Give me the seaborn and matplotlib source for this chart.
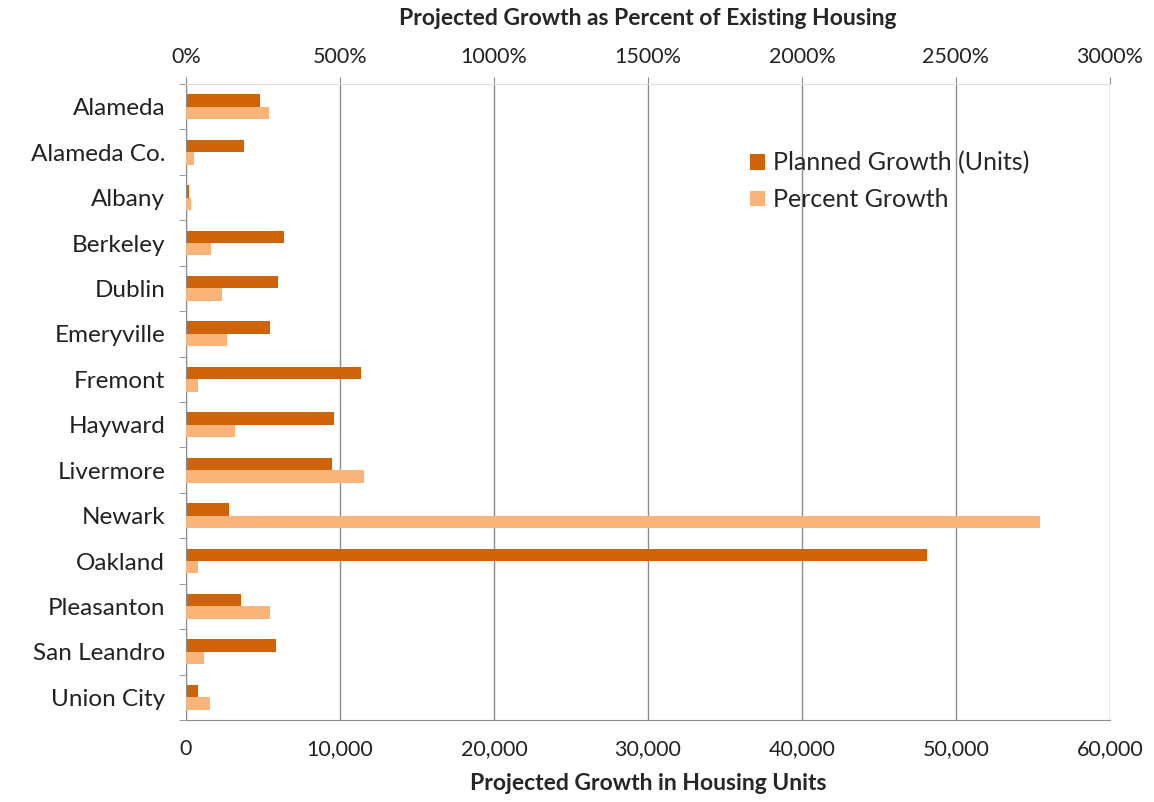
import numpy as np
import pandas as pd
import matplotlib
matplotlib.use("Agg")
import matplotlib.pyplot as plt
from matplotlib.ticker import FuncFormatter
import seaborn as sns

# data
cities = ["Alameda", "Alameda Co.", "Albany", "Berkeley", "Dublin", "Emeryville",
          "Fremont", "Hayward", "Livermore", "Newark", "Oakland", "Pleasanton",
          "San Leandro", "Union City"]
units = [4800, 3750, 200, 6360, 5950, 5480, 11360, 9630, 9480, 2770, 48120, 3570, 5860, 780]
percent = [269, 27, 15, 80, 117, 134, 39, 158, 577, 2773, 39, 273, 59, 77]

series = ["Planned Growth (Units)", "Percent Growth"]
colors = ["#CF6309", "#F9B47A"]

df_units = pd.DataFrame({"city": cities + cities,
                         "series": [series[0]] * 14 + [series[1]] * 14,
                         "value": units + [0] * 14})
df_pct = pd.DataFrame({"city": cities + cities,
                       "series": [series[0]] * 14 + [series[1]] * 14,
                       "value": [0] * 14 + percent})

sns.set_style("white")
plt.rcParams["font.family"] = ["Lato", "DejaVu Sans"]

fig = plt.figure(figsize=(11.54, 8.02), dpi=100)
ax = fig.add_axes([186 / 1154, 1 - 720 / 802, 924 / 1154, 636 / 802])
ax2 = ax.twiny()

sns.barplot(data=df_units, x="value", y="city", hue="series", hue_order=series,
            palette=colors, orient="h", width=0.55, ax=ax, errorbar=None,
            saturation=1, linewidth=0)
sns.barplot(data=df_pct, x="value", y="city", hue="series", hue_order=series,
            palette=colors, orient="h", width=0.55, ax=ax2, errorbar=None,
            saturation=1, linewidth=0, legend=False)

ax.set_xlim(0, 60000)
ax2.set_xlim(0, 3000)
ax.set_ylim(13.5, -0.5)

ax.set_xticks(np.arange(0, 60001, 10000))
ax.xaxis.set_major_formatter(FuncFormatter(lambda v, p: f"{int(v):,}"))
ax2.set_xticks(np.arange(0, 3001, 500))
ax2.xaxis.set_major_formatter(FuncFormatter(lambda v, p: f"{int(v)}%"))

ax.grid(axis="x", color="#8c8c8c", lw=1)
ax.set_axisbelow(True)
ax2.grid(False)

gray = "#8c8c8c"
for a in (ax, ax2):
    for s in a.spines.values():
        s.set_visible(False)
ax.spines["left"].set_visible(True)
ax.spines["left"].set_color(gray)
ax.spines["bottom"].set_visible(True)
ax.spines["bottom"].set_color(gray)
ax2.spines["top"].set_visible(True)
ax2.spines["top"].set_color("#e0e0e0")

ax.set_yticks(np.arange(-0.5, 14, 1), minor=True)
ax.tick_params(axis="y", which="major", length=0, pad=15, labelsize=17.5, labelcolor="#222222")
ax.tick_params(axis="y", which="minor", length=5, color=gray, left=True)
ax.tick_params(axis="x", which="major", length=0, pad=14, labelsize=15.5, labelcolor="#222222")
ax2.tick_params(axis="x", which="major", length=5, color=gray, pad=7, labelsize=15.5,
                labelcolor="#222222")

ax.set_ylabel("")
ax.set_xlabel("Projected Growth in Housing Units", fontsize=16.5, fontweight="bold", labelpad=10)
ax2.set_xlabel("Projected Growth as Percent of Existing Housing", fontsize=16.5,
               fontweight="bold", labelpad=16)

ax.legend(loc="upper left", bbox_to_anchor=(0.6, 0.91), frameon=False, fontsize=18,
          handlelength=0.6, handleheight=0.6, handletextpad=0.3, labelspacing=0.55,
          borderaxespad=0)

fig.savefig("out.png", dpi=100)
